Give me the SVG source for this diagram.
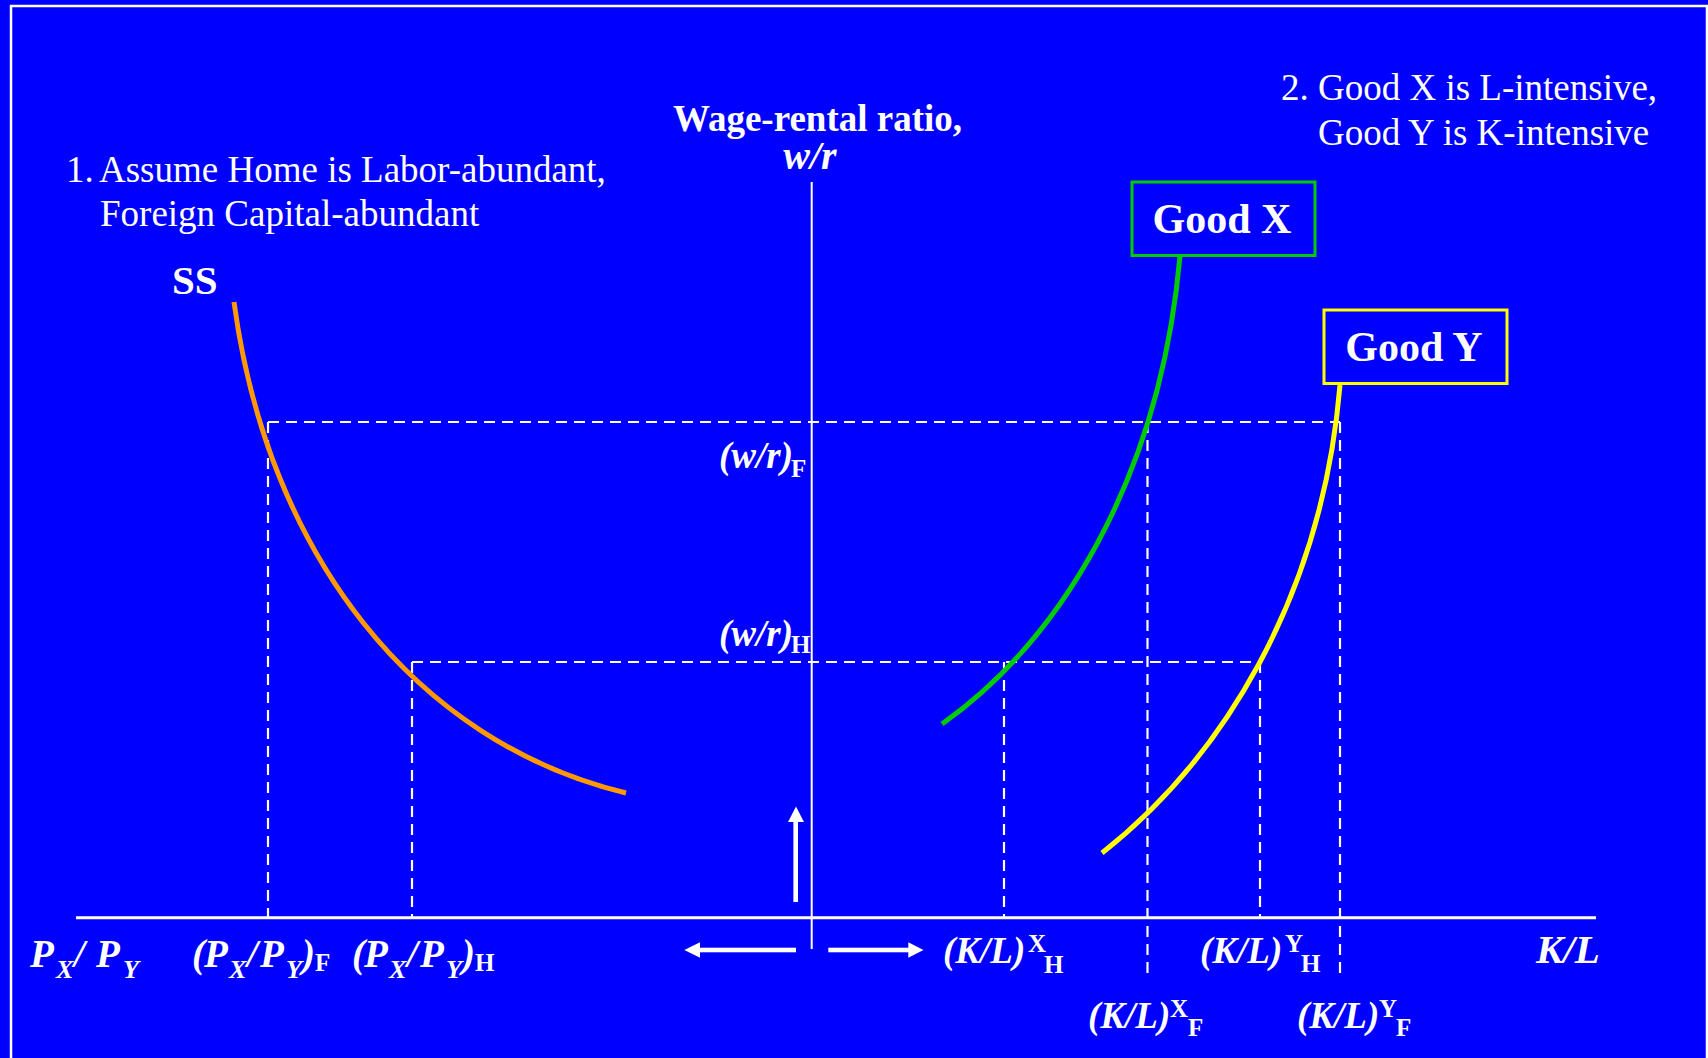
<svg xmlns="http://www.w3.org/2000/svg" width="1708" height="1058" viewBox="0 0 1708 1058">
  <style>
    text { font-family: "Liberation Serif", "Times New Roman", serif; fill: #FFFFFF; }
    .note { font-size: 37px; }
    .title { font-size: 37px; font-weight: bold; }
    .bi { font-size: 37px; font-weight: bold; font-style: italic; }
    .pl { font-size: 39px; }
    .sub { font-size: 25px; }
    .psub { font-size: 26px; }
    .up { font-style: normal; }
    .good { font-size: 42px; font-weight: bold; }
    .dash { stroke: #FFFFFF; stroke-width: 2.2; stroke-dasharray: 11 7; fill: none; }
    .axis { stroke: #FFFFFF; fill: none; }
    .curve { fill: none; stroke-width: 5; }
    .arrow { fill: #FFFFFF; }
  </style>
  <rect x="0" y="0" width="1708" height="1058" fill="#0000FF"/>
  <rect x="11" y="6" width="1696" height="1100" fill="none" stroke="#FFFFFF" stroke-width="2.5"/>

  <g id="connectors">
    <g id="guides">
      <path class="dash" d="M268,422 H1340"/>
      <path class="dash" d="M412,662 H1260"/>
      <path class="dash" d="M268,422 V917"/>
      <path class="dash" d="M412,662 V917"/>
      <path class="dash" d="M1004,662 V917"/>
      <path class="dash" d="M1260,662 V917"/>
      <path class="dash" d="M1147.5,422 V973"/>
      <path class="dash" d="M1340,422 V973"/>
    </g>
    <g id="axes">
      <path class="axis" stroke-width="2" d="M811.7,182 V949"/>
      <path class="axis" stroke-width="3" d="M76,917.7 H1596"/>
    </g>
    <g id="arrows">
      <rect class="arrow" x="793.4" y="820" width="4.6" height="82"/>
      <polygon class="arrow" points="788,822 804,822 796,806.5"/>
      <rect class="arrow" x="698" y="947.7" width="98" height="4.6"/>
      <polygon class="arrow" points="700,942.3 700,957.7 684.3,950"/>
      <rect class="arrow" x="828.3" y="947.7" width="82" height="4.6"/>
      <polygon class="arrow" points="908.3,942.3 908.3,957.7 923.5,950"/>
    </g>
  </g>

  <g id="ss-curve">
    <path class="curve" stroke="#FF9900" d="M234,302 C268,555 415,742 626,793"/>
    <text class="title" x="172" y="294" style="font-size:41px">SS</text>
  </g>

  <g id="good-x">
    <path class="curve" stroke="#00CC00" d="M942,724 C1060,640 1160,480 1180,256"/>
    <rect x="1132" y="182" width="183" height="73.5" fill="#0000FF" stroke="#00CC00" stroke-width="3"/>
    <text class="good" x="1222" y="233" text-anchor="middle">Good X</text>
  </g>

  <g id="good-y">
    <path class="curve" stroke="#FFFF00" d="M1102,853 C1220,760 1322,600 1340,385"/>
    <rect x="1324" y="310" width="183" height="73.5" fill="#0000FF" stroke="#FFFF00" stroke-width="3"/>
    <text class="good" x="1414" y="361" text-anchor="middle">Good Y</text>
  </g>

  <g id="y-axis-title">
    <text class="title" x="817.5" y="131" text-anchor="middle">Wage-rental ratio,</text>
    <text class="bi" x="810" y="169" text-anchor="middle" style="font-size:40px">w/r</text>
  </g>

  <g id="note-1">
    <text class="note" y="182"><tspan x="66">1.</tspan><tspan x="99">Assume Home is Labor-abundant,</tspan></text>
    <text class="note" x="100" y="226">Foreign Capital-abundant</text>
  </g>

  <g id="note-2">
    <text class="note" y="100"><tspan x="1281">2.</tspan><tspan x="1318">Good X is L-intensive,</tspan></text>
    <text class="note" x="1318" y="145">Good Y is K-intensive</text>
  </g>

  <g id="wr-labels">
    <text class="bi" y="468"><tspan x="719">(w/r)</tspan><tspan class="sub up" x="791" y="477">F</tspan></text>
    <text class="bi" y="646"><tspan x="719">(w/r)</tspan><tspan class="sub up" x="791" y="653">H</tspan></text>
  </g>

  <g id="price-labels">
    <text class="bi pl" y="967"><tspan x="30">P</tspan><tspan class="psub" x="56" y="978">X</tspan><tspan x="74" y="967">/</tspan><tspan x="96">P</tspan><tspan class="psub" x="123" y="978">Y</tspan></text>
    <text class="bi pl" y="967"><tspan x="192">(</tspan><tspan x="204">P</tspan><tspan class="psub" x="229" y="978">X</tspan><tspan x="247" y="967">/</tspan><tspan x="260">P</tspan><tspan class="psub" x="286" y="978">Y</tspan><tspan x="302" y="967">)</tspan><tspan class="sub up" x="315" y="971">F</tspan></text>
    <text class="bi pl" y="967"><tspan x="352">(</tspan><tspan x="364">P</tspan><tspan class="psub" x="389" y="978">X</tspan><tspan x="407" y="967">/</tspan><tspan x="420">P</tspan><tspan class="psub" x="446" y="978">Y</tspan><tspan x="462" y="967">)</tspan><tspan class="sub up" x="475" y="971">H</tspan></text>
  </g>

  <g id="kl-labels">
    <text class="bi" y="963"><tspan x="943">(K/L)</tspan><tspan class="sub up" x="1028" y="952">X</tspan><tspan class="sub up" x="1044" y="973">H</tspan></text>
    <text class="bi" y="963"><tspan x="1200">(K/L)</tspan><tspan class="sub up" x="1285" y="952">Y</tspan><tspan class="sub up" x="1301" y="972">H</tspan></text>
    <text class="bi" y="1028"><tspan x="1088">(K/L)</tspan><tspan class="sub up" x="1170" y="1017">X</tspan><tspan class="sub up" x="1188" y="1036">F</tspan></text>
    <text class="bi" y="1028"><tspan x="1297">(K/L)</tspan><tspan class="sub up" x="1379" y="1017">Y</tspan><tspan class="sub up" x="1396" y="1036">F</tspan></text>
    <text class="bi" x="1536" y="963" style="font-size:41px">K/L</text>
  </g>
</svg>
